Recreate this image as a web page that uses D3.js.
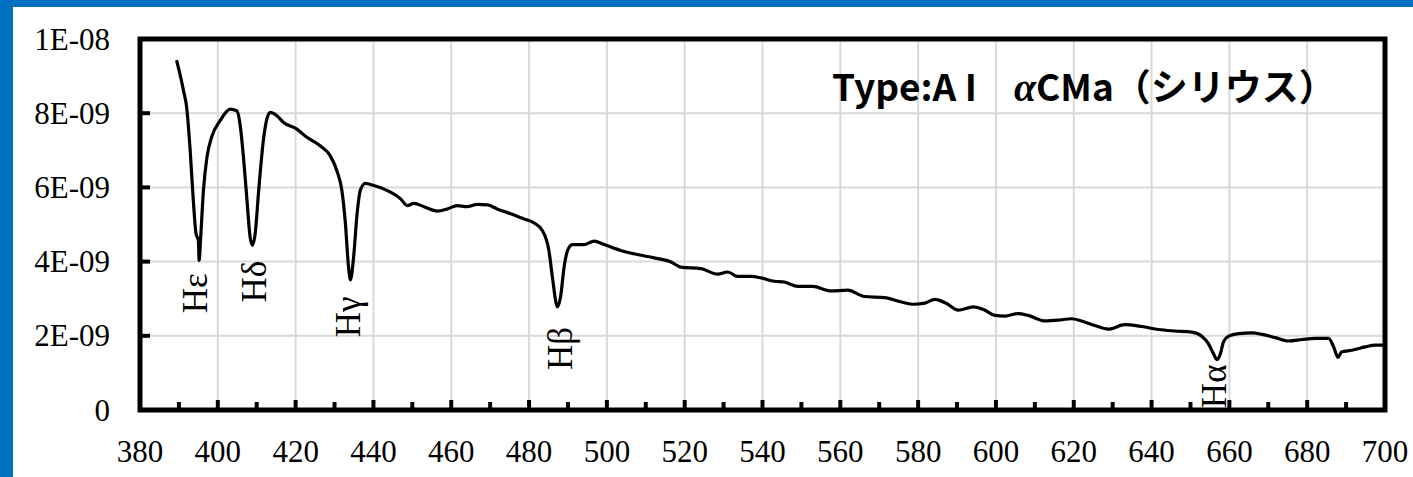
<!DOCTYPE html>
<html><head><meta charset="utf-8">
<script src="https://cdn.jsdelivr.net/npm/d3@7"></script>
<style>html,body{margin:0;padding:0;background:#fff;}svg{display:block;}</style>
</head><body>
<svg id="chart" width="1413" height="477"></svg>
<script>
// Wavelength (nm)
const wavelength = [389.4,391.2,392.0,392.9,393.7,394.4,395.0,395.2,395.6,396.3,397.2,398.4,400.6,403.2,404.9,405.7,406.6,407.5,408.3,408.9,409.6,410.5,411.7,412.6,413.5,415.2,416.9,420.3,422.9,426.3,428.9,430.6,431.9,432.8,433.6,434.1,434.9,435.8,436.6,437.9,440.1,442.6,444.4,447.0,448.7,450.4,453.0,456.4,459.0,461.5,464.1,466.7,469.3,471.8,475.3,478.7,481.3,483.4,485.1,486.0,487.3,488.1,489.0,489.9,491.1,494.1,496.7,499.3,503.6,507.0,512.2,516.5,519.0,524.2,528.5,531.1,533.6,537.1,539.6,543.0,545.6,549.1,552.9,557.6,561.9,566.2,571.4,575.7,579.1,581.7,584.3,587.3,590.3,594.2,596.8,599.7,602.3,605.7,608.3,612.6,616.0,619.4,622.0,625.4,628.9,633.1,637.5,641.8,646.0,650.3,652.9,654.6,655.9,656.8,657.7,658.5,659.8,662.4,665.8,668.4,671.8,675.2,678.7,682.1,685.5,686.8,687.9,688.9,691.5,694.9,697.5,699.7];
// Flux in units of 1E-09
const flux = [9.43,8.6,8.15,6.99,5.65,4.75,4.57,4.03,4.66,5.91,6.81,7.35,7.80,8.11,8.06,7.71,6.81,5.65,4.66,4.44,4.75,5.91,7.26,7.84,8.02,7.93,7.75,7.57,7.35,7.12,6.85,6.45,5.91,5.02,3.85,3.51,4.12,5.29,5.91,6.11,6.05,5.96,5.87,5.69,5.51,5.57,5.48,5.36,5.42,5.51,5.48,5.54,5.53,5.42,5.29,5.15,5.04,4.84,4.30,3.58,2.78,3.05,3.85,4.30,4.46,4.46,4.55,4.46,4.30,4.21,4.10,3.99,3.85,3.81,3.66,3.72,3.60,3.60,3.56,3.47,3.45,3.33,3.33,3.21,3.23,3.06,3.03,2.91,2.85,2.88,2.98,2.87,2.69,2.78,2.71,2.55,2.53,2.60,2.55,2.40,2.42,2.46,2.40,2.28,2.18,2.30,2.25,2.17,2.13,2.10,1.99,1.79,1.52,1.36,1.52,1.84,1.99,2.06,2.08,2.04,1.95,1.86,1.90,1.93,1.93,1.70,1.42,1.57,1.61,1.70,1.75,1.75];

const xTickValues = [380,400,420,440,460,480,500,520,540,560,580,600,620,640,660,680,700];
const xMinorTicks = [390,410,430,450,470,490,510,530,550,570,590,610,630,650,670,690];
const yTickValues = [0,2,4,6,8,10];
const yTickLabels = ["0","2E-09","4E-09","6E-09","8E-09","1E-08"];

const lineNames = ["H\u03b5","H\u03b4","H\u03b3","H\u03b2","H\u03b1"];
const lineWavelength = [394.2,409.4,433.5,488.0,656.0];
const lineLabelLevel = [2.61,2.90,1.96,1.08,0.05];

const titleMain = "Type:A I\u3000";
const titleAlpha = "\u03b1";
const titleRest = "CMa\uff08\u30b7\u30ea\u30a6\u30b9\uff09";

const svg = d3.select("#chart");
const W = 1413, H = 477;
svg.append("rect").attr("x",0).attr("y",0).attr("width",W).attr("height",H).attr("fill","#0070C0");
svg.append("rect").attr("x",13).attr("y",7).attr("width",W-13).attr("height",H-7).attr("fill","#ffffff");

const L = 140, R = 1385, T = 39, B = 410;
const x = d3.scaleLinear().domain([380,700]).range([L,R]);
const y = d3.scaleLinear().domain([0,10]).range([B,T]);

// gridlines
const grid = svg.append("g");
grid.selectAll("line.v").data(xTickValues.slice(1,-1)).enter().append("line")
  .attr("x1",d=>x(d)).attr("x2",d=>x(d)).attr("y1",T).attr("y2",B)
  .attr("stroke","#d9d9d9").attr("stroke-width",2);
grid.selectAll("line.h").data(yTickValues.slice(1,-1)).enter().append("line")
  .attr("x1",L).attr("x2",R).attr("y1",d=>y(d)).attr("y2",d=>y(d))
  .attr("stroke","#d9d9d9").attr("stroke-width",2);

// ticks (inside)
const ticks = svg.append("g").attr("stroke","#000").attr("stroke-width",4);
ticks.selectAll("line.xmaj").data(xTickValues.slice(1,-1)).enter().append("line")
  .attr("x1",d=>x(d)).attr("x2",d=>x(d)).attr("y1",B).attr("y2",B-10);
ticks.selectAll("line.xmin").data(xMinorTicks).enter().append("line")
  .attr("x1",d=>x(d)).attr("x2",d=>x(d)).attr("y1",B).attr("y2",B-8);
ticks.selectAll("line.y").data(yTickValues.slice(1,-1)).enter().append("line")
  .attr("x1",L).attr("x2",L+10).attr("y1",d=>y(d)).attr("y2",d=>y(d));

// frame
svg.append("rect").attr("x",L).attr("y",T).attr("width",R-L).attr("height",B-T)
  .attr("fill","none").attr("stroke","#000").attr("stroke-width",5);

// axis labels
const serif = "Liberation Serif";
svg.append("g").selectAll("text").data(xTickValues).enter().append("text")
  .attr("x",d=>x(d)).attr("y",462).attr("text-anchor","middle")
  .style("font-family",serif).style("font-size","31px").attr("fill","#000").text(d=>d);
svg.append("g").selectAll("text").data(yTickValues).enter().append("text")
  .attr("x",110).attr("y",d=>y(d)).attr("dy","0.34em").attr("text-anchor","end")
  .style("font-family",serif).style("font-size","31px").attr("fill","#000").text((d,i)=>yTickLabels[i]);

// spectrum
const data = wavelength.map((w,i)=>({w, f: flux[i]}));
const line = d3.line().x(d=>x(d.w)).y(d=>y(d.f)).curve(d3.curveMonotoneX);
svg.append("path").datum(data).attr("d",line).attr("fill","none")
  .attr("stroke","#000").attr("stroke-width",3.2).attr("stroke-linejoin","round");

// line labels (rotated)
lineNames.forEach((n,i)=>{
  const bx = x(lineWavelength[i]) + 12, by = y(lineLabelLevel[i]);
  svg.append("text").attr("transform",`translate(${bx},${by}) rotate(-90)`)
    .style("font-family",serif).style("font-size","35px").attr("fill","#000").text(n);
});

// title
const t = svg.append("text").attr("x",832).attr("y",101)
  .style("font-family","'Noto Sans CJK JP','Noto Sans',sans-serif").attr("font-weight","bold")
  .style("font-size","37px").attr("fill","#000");
t.append("tspan").text(titleMain);
t.append("tspan").attr("font-style","italic").style("font-family","Liberation Serif").style("font-size","40px").text(titleAlpha);
t.append("tspan").text(titleRest);
</script>
</body></html>
